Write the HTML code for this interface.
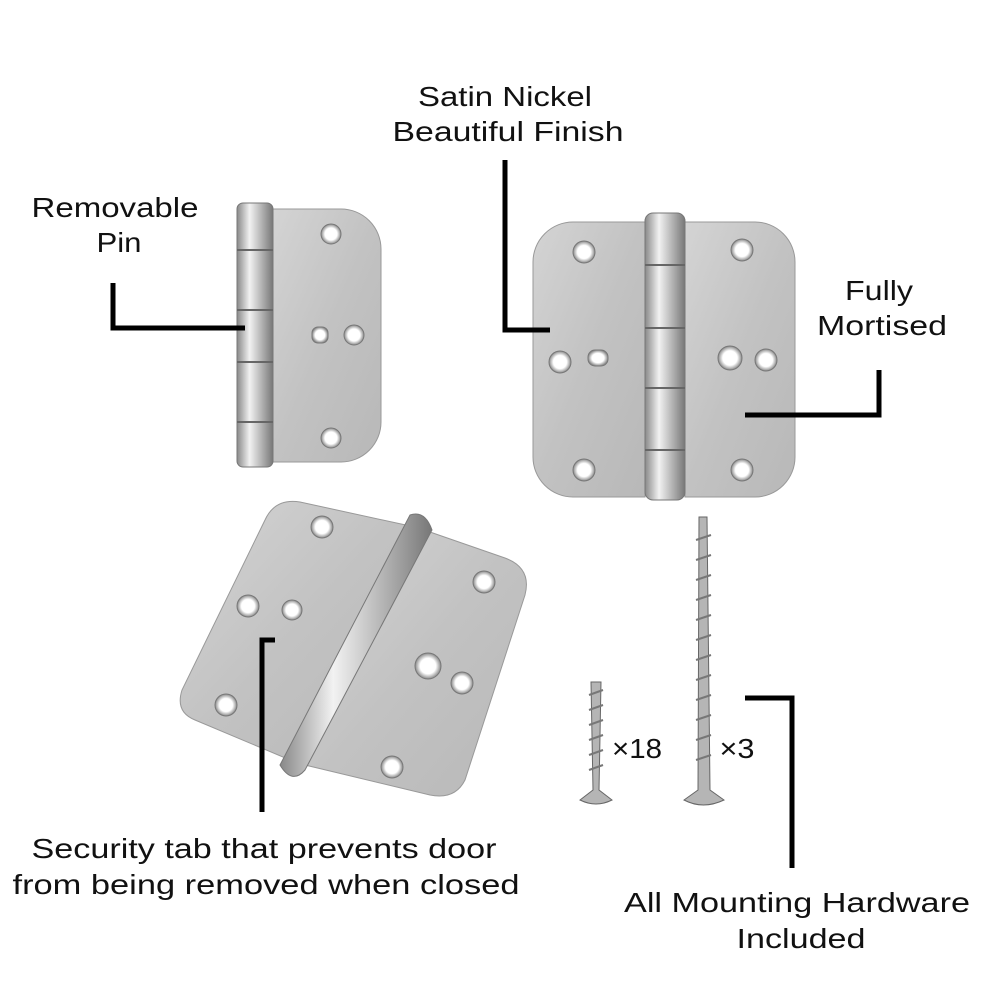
<!DOCTYPE html>
<html><head><meta charset="utf-8"><style>
html,body{margin:0;padding:0;background:#fff;}
svg{display:block;}
text{font-family:"Liberation Sans",sans-serif;font-size:28px;fill:#111;text-anchor:middle;}
</style></head><body>
<svg width="1000" height="1000" viewBox="0 0 1000 1000" xmlns="http://www.w3.org/2000/svg">
<defs>
<linearGradient id="m" x1="0" y1="0" x2="1" y2="1">
<stop offset="0" stop-color="#d4d4d4"/><stop offset="0.5" stop-color="#c2c2c2"/><stop offset="1" stop-color="#b8b8b8"/></linearGradient>
<linearGradient id="b" x1="0" y1="0" x2="1" y2="0">
<stop offset="0" stop-color="#888"/><stop offset="0.35" stop-color="#f2f2f2"/><stop offset="0.7" stop-color="#b0b0b0"/><stop offset="1" stop-color="#777"/></linearGradient>
<radialGradient id="h"><stop offset="0.6" stop-color="#fff"/><stop offset="1" stop-color="#888"/></radialGradient>
</defs>
<g>
<text x="115" y="217" textLength="167" lengthAdjust="spacingAndGlyphs">Removable</text>
<text x="119" y="252" textLength="45" lengthAdjust="spacingAndGlyphs">Pin</text>
<text x="505" y="106" textLength="174" lengthAdjust="spacingAndGlyphs">Satin Nickel</text>
<text x="508" y="141" textLength="231" lengthAdjust="spacingAndGlyphs">Beautiful Finish</text>
<text x="879" y="300" textLength="68" lengthAdjust="spacingAndGlyphs">Fully</text>
<text x="882" y="335" textLength="130" lengthAdjust="spacingAndGlyphs">Mortised</text>
<text x="264" y="858" textLength="465" lengthAdjust="spacingAndGlyphs">Security tab that prevents door</text>
<text x="266" y="894" textLength="507" lengthAdjust="spacingAndGlyphs">from being removed when closed</text>
<text x="797" y="912" textLength="346" lengthAdjust="spacingAndGlyphs">All Mounting Hardware</text>
<text x="801" y="948" textLength="129" lengthAdjust="spacingAndGlyphs">Included</text>
<text x="637" y="758" textLength="50" lengthAdjust="spacingAndGlyphs">×18</text>
<text x="737" y="758" textLength="35" lengthAdjust="spacingAndGlyphs">×3</text>
</g>

<!-- hinge 1 -->
<path d="M273 209 H341 A40 40 0 0 1 381 249 V422 A40 40 0 0 1 341 462 H273 Z" fill="url(#m)" stroke="#999"/>
<rect x="237" y="203" width="36" height="264" rx="6" fill="url(#b)" stroke="#777"/>
<g stroke="#666" stroke-width="2"><line x1="237" y1="250" x2="273" y2="250"/><line x1="237" y1="310" x2="273" y2="310"/><line x1="237" y1="362" x2="273" y2="362"/><line x1="237" y1="422" x2="273" y2="422"/></g>
<g fill="url(#h)" stroke="#777"><circle cx="331" cy="234" r="10"/><circle cx="354" cy="335" r="10"/><circle cx="331" cy="438" r="10"/><rect x="312" y="327" width="16" height="16" rx="6"/></g>

<!-- hinge 2 -->
<path d="M645 222 H573 A40 40 0 0 0 533 262 V457 A40 40 0 0 0 573 497 H645 Z" fill="url(#m)" stroke="#999"/>
<path d="M685 222 H755 A40 40 0 0 1 795 262 V457 A40 40 0 0 1 755 497 H685 Z" fill="url(#m)" stroke="#999"/>
<rect x="645" y="213" width="40" height="287" rx="8" fill="url(#b)" stroke="#777"/>
<g stroke="#666" stroke-width="2"><line x1="645" y1="265" x2="685" y2="265"/><line x1="645" y1="328" x2="685" y2="328"/><line x1="645" y1="388" x2="685" y2="388"/><line x1="645" y1="450" x2="685" y2="450"/></g>
<g fill="url(#h)" stroke="#777"><circle cx="584" cy="252" r="11"/><circle cx="560" cy="362" r="11"/><circle cx="584" cy="470" r="11"/><circle cx="742" cy="250" r="11"/><circle cx="730" cy="358" r="12"/><circle cx="766" cy="360" r="11"/><circle cx="742" cy="470" r="11"/><rect x="588" y="350" width="20" height="16" rx="7"/></g>

<!-- hinge 3 -->
<path d="M300 502 L415 527 L290 760 L195 720 Q175 712 182 690 L265 520 Q275 498 300 502 Z" fill="url(#m)" stroke="#999"/>
<path d="M430 532 L505 558 Q532 568 525 595 L465 780 Q455 800 430 795 L305 765 Z" fill="url(#m)" stroke="#999"/>
<path d="M410 515 Q425 510 432 530 L305 770 Q292 785 280 765 Z" fill="url(#b)" stroke="#777"/>
<g fill="url(#h)" stroke="#777"><circle cx="322" cy="527" r="11"/><circle cx="248" cy="606" r="11"/><circle cx="226" cy="705" r="11"/><circle cx="484" cy="582" r="11"/><circle cx="428" cy="666" r="13"/><circle cx="462" cy="683" r="11"/><circle cx="392" cy="767" r="11"/><circle cx="292" cy="610" r="10"/></g>

<!-- screws -->
<path d="M591 682 L601 682 L599 790 L612 800 Q596 808 580 800 L593 790 Z" fill="#b5b5b5" stroke="#666"/>
<g stroke="#777" stroke-width="2"><line x1="589" y1="695" x2="603" y2="690"/><line x1="589" y1="710" x2="603" y2="705"/><line x1="589" y1="725" x2="603" y2="720"/><line x1="589" y1="740" x2="603" y2="735"/><line x1="589" y1="755" x2="603" y2="750"/><line x1="589" y1="770" x2="603" y2="765"/></g>
<path d="M699 517 L707 517 L710 790 L724 800 Q703 810 684 800 L698 790 Z" fill="#b5b5b5" stroke="#666"/>
<g stroke="#777" stroke-width="2">
<line x1="696" y1="540" x2="711" y2="535"/><line x1="696" y1="560" x2="711" y2="555"/><line x1="696" y1="580" x2="711" y2="575"/><line x1="696" y1="600" x2="711" y2="595"/><line x1="696" y1="620" x2="711" y2="615"/><line x1="696" y1="640" x2="711" y2="635"/><line x1="696" y1="660" x2="711" y2="655"/><line x1="696" y1="680" x2="711" y2="675"/><line x1="696" y1="700" x2="711" y2="695"/><line x1="696" y1="720" x2="711" y2="715"/><line x1="696" y1="740" x2="711" y2="735"/><line x1="696" y1="760" x2="711" y2="755"/></g>

<!-- connectors -->
<g fill="none" stroke="#000" stroke-width="5">
<polyline points="113,283 113,328 245,328"/>
<polyline points="505,160 505,330 550,330"/>
<polyline points="879,370 879,415 745,415"/>
<polyline points="275,640 262,640 262,812"/>
<polyline points="745,698 792,698 792,868"/>
</g>
</svg>
</body></html>
